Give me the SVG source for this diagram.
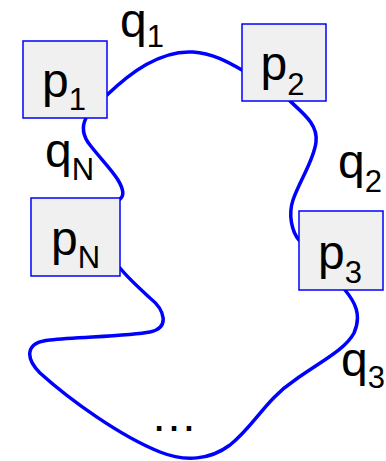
<svg xmlns="http://www.w3.org/2000/svg" width="386" height="461" viewBox="0 0 386 461">
<style>
.box{fill:#f0f0f0;stroke:#0000ff;stroke-width:1.5}
.lbl{font-family:"Liberation Sans",Arial,sans-serif;font-size:48px;fill:#000}
.sub{font-size:31px}
.wire{fill:none;stroke:#0000ff;stroke-width:3.5;stroke-linecap:round}
</style>
<rect width="386" height="461" fill="#fff"/>
<g id="connectors">
<path id="q1" class="wire" d="M107,95 C130,73 160,50 193,52 C212,53 228,62 242,70"/>
<path id="qN" class="wire" d="M86,118 C82,126 82,135 90,145 C100,158 112,170 118,180 C124,190 124,196 120,199"/>
<path id="q2" class="wire" d="M290,101 C305,115 318,125 316,142 C314,160 300,180 293,200 C288,215 292,232 299,240"/>
<path id="q3" class="wire" d="M345,290 C355,302 362,315 354,333 C345,350 320,362 295,380 C265,400 255,425 230,445 C210,460 185,462 160,452 C120,436 70,400 40,373 C25,358 25,342 50,340 C80,337 130,336 150,332 C170,328 165,310 150,298 C138,287 128,278 120,268"/>
</g>
<g id="p1"><rect class="box" x="23" y="41" width="84" height="77"/><text class="lbl" x="42" y="97">p<tspan class="sub" dy="13">1</tspan></text></g>
<g id="p2"><rect class="box" x="242" y="24" width="84" height="77"/><text class="lbl" x="260.5" y="80">p<tspan class="sub" dy="15">2</tspan></text></g>
<g id="pN"><rect class="box" x="31" y="198" width="89" height="78"/><text class="lbl" x="51" y="255">p<tspan class="sub" dy="12.5">N</tspan></text></g>
<g id="p3"><rect class="box" x="299" y="211" width="84" height="79"/><text class="lbl" x="318" y="269">p<tspan class="sub" dy="14">3</tspan></text></g>
<g id="labels">
<text class="lbl" x="120" y="37">q<tspan class="sub" dy="9.5">1</tspan></text>
<text class="lbl" x="45" y="167">q<tspan class="sub" dy="13">N</tspan></text>
<text class="lbl" x="338" y="178">q<tspan class="sub" dy="14">2</tspan></text>
<text class="lbl" x="341" y="376">q<tspan class="sub" dy="12">3</tspan></text>
<text class="lbl" x="150.5" y="431" style="font-size:47px">…</text>
</g>
</svg>
